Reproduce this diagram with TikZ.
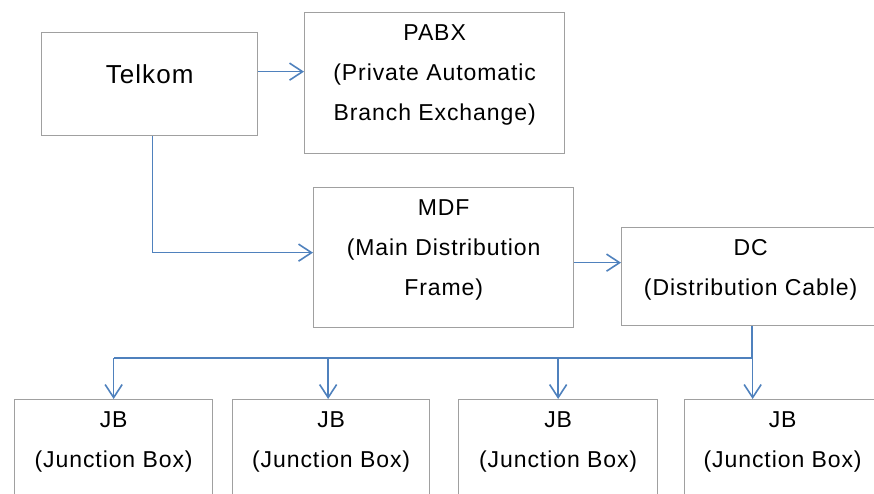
\documentclass[tikz,border=0pt]{standalone}
\usepackage{fontspec}
\setmainfont{Liberation Sans}[LetterSpace=4]
\usetikzlibrary{arrows.meta}
\definecolor{linkblue}{RGB}{79,129,189}
\definecolor{boxgray}{RGB}{160,160,160}
\newcommand{\boxtext}[4][0]{\parbox[t][#3pt][t]{#2pt}{\centering\vspace*{#1pt}\strut#4}}
\tikzset{
  unitbox/.style={draw=boxgray, line width=1.3pt, inner sep=0pt, anchor=north west},
  link/.style={draw=linkblue, line width=1.6pt},
  linkarrow/.style={link, -{Straight Barb[length=13pt,width=17pt]}}
}
\begin{document}
\begin{tikzpicture}[x=1pt,y=-1pt,font=\fontsize{23}{40}\selectfont]
\useasboundingbox (0,0) rectangle (874,493);
\clip (0,0) rectangle (874,493);
\node[unitbox, font=\fontsize{26}{40}\selectfont] (telkom) at (41,32) {\boxtext[23]{216}{103}{Telkom}};
\node[unitbox] (pabx) at (304,12) {\boxtext{260}{141}{PABX\\(Private Automatic\\Branch Exchange)}};
\node[unitbox] (mdf) at (313,187) {\boxtext{260}{140}{MDF\\(Main Distribution\\Frame)}};
\node[unitbox] (dc) at (621,227) {\boxtext{258}{98}{DC\\(Distribution Cable)}};
\foreach \n/\x/\w in {1/14/198,2/232/197,3/458/199,4/684/196}
  \node[unitbox] (jb\n) at (\x,399) {\boxtext{\w}{110}{JB\\(Junction Box)}};
\draw[linkarrow] ([yshift=12.5pt]telkom.east) -- ([yshift=12.5pt]telkom.east -| pabx.west);
\draw[linkarrow] ([xshift=3pt]telkom.south) |- ([yshift=5pt]mdf.west);
\draw[linkarrow] ([yshift=-5pt]mdf.east) -- ([yshift=-5pt]mdf.east -| dc.west);
\coordinate (split) at (752,358);
\draw[link] (dc.south -| split) -- (split) -- (split -| jb1.north);
\foreach \n/\dx in {1/0,2/-3,3/0,4/-30}
  \draw[linkarrow] ([xshift=\dx pt]jb\n.north |- split) -- ([xshift=\dx pt]jb\n.north);
\end{tikzpicture}
\end{document}
